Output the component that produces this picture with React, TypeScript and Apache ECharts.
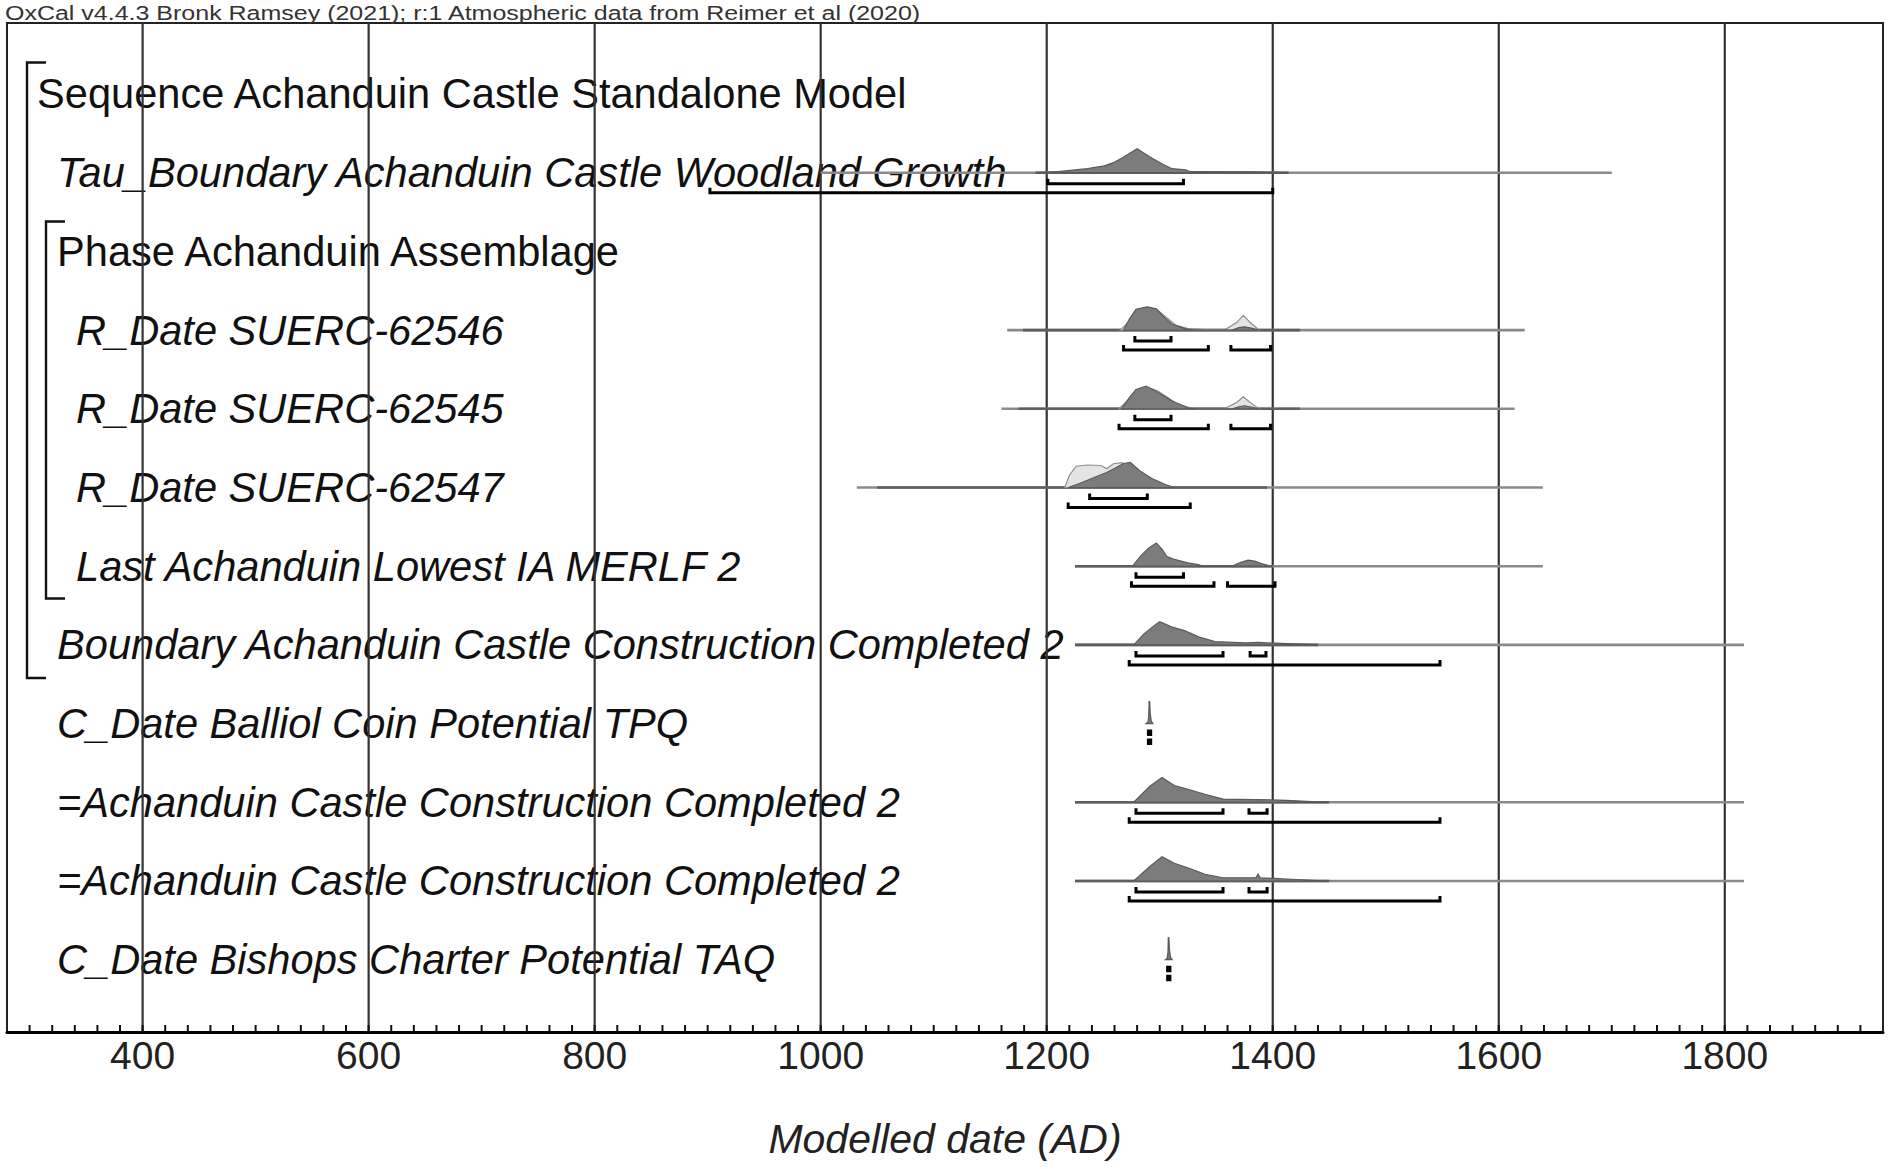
import React, { useEffect, useRef } from 'react';
import * as echarts from 'echarts';

const TITLE = 'OxCal v4.4.3 Bronk Ramsey (2021); r:1 Atmospheric data from Reimer et al (2020)';
const AXIS_NAME = 'Modelled date (AD)';
const X_MIN = 280;
const X_MAX = 1940;
const TICK_STEP = 20;
const GRID_YEARS = [400, 600, 800, 1000, 1200, 1400, 1600, 1800];
const Y_MIN = -0.902;
const Y_MAX = 11.919;

const ROW_NAMES = [
  'Sequence Achanduin Castle Standalone Model',
  'Tau_Boundary Achanduin Castle Woodland Growth',
  'Phase Achanduin Assemblage',
  'R_Date SUERC-62546',
  'R_Date SUERC-62545',
  'R_Date SUERC-62547',
  'Last Achanduin Lowest IA MERLF 2',
  'Boundary Achanduin Castle Construction Completed 2',
  'C_Date Balliol Coin Potential TPQ',
  '=Achanduin Castle Construction Completed 2',
  '=Achanduin Castle Construction Completed 2',
  'C_Date Bishops Charter Potential TAQ',
];
const ROW_LEVEL = [0, 1, 1, 2, 2, 2, 2, 1, 1, 1, 1, 1];
const ROW_ITALIC = [false, true, false, true, true, true, true, true, true, true, true, true];

// Sequence / Phase brackets: [top row, bottom row]
const SEQ_SPANS = [
  [-0.4, 7.42],
  [1.62, 6.41],
];

// [row, from, to]
const RANGE_LIGHT = [
  [1, 1000, 1700],
  [3, 1165, 1623],
  [4, 1160, 1614],
  [5, 1032, 1639],
  [6, 1225, 1639],
  [7, 1225, 1817],
  [9, 1225, 1817],
  [10, 1225, 1817],
];
const RANGE_DARK = [
  [1, 1190, 1414],
  [3, 1179, 1424],
  [4, 1175, 1424],
  [5, 1050, 1395],
  [6, 1225, 1400],
  [7, 1225, 1440],
  [9, 1225, 1450],
  [10, 1225, 1450],
];

// likelihoods (unmodelled), relative probability
const L_62546 = [[1265, 0], [1272, 0.3], [1280, 0.75], [1289, 0.9], [1298, 0.8], [1306, 0.5], [1314, 0.2], [1325, 0.06], [1340, 0.02], [1358, 0.02], [1368, 0.3], [1374, 0.59], [1380, 0.3], [1388, 0]];
const L_62545 = [[1264, 0], [1271, 0.3], [1279, 0.72], [1288, 0.88], [1298, 0.72], [1307, 0.45], [1315, 0.2], [1326, 0.05], [1340, 0.02], [1358, 0.02], [1368, 0.25], [1374, 0.48], [1380, 0.25], [1388, 0]];
const L_62547 = [[1216, 0], [1220, 0.48], [1226, 0.85], [1236, 0.9], [1248, 0.88], [1253, 0.75], [1259, 0.95], [1267, 0.99], [1275, 0.61], [1281, 0.15], [1286, 0]];
const LIK_ROWS = [3, 4, 5];
const LIKELIHOODS = [L_62546, L_62545, L_62547];

// posteriors (modelled), relative probability
const P_TAU = [[1192, 0], [1210, 0.04], [1236, 0.16], [1251, 0.27], [1259, 0.4], [1267, 0.6], [1280, 0.96], [1291, 0.64], [1303, 0.33], [1311, 0.16], [1323, 0.11], [1327, 0.04], [1380, 0.03], [1414, 0]];
const P_62546 = [[1268, 0], [1273, 0.43], [1279, 0.83], [1289, 0.93], [1297, 0.85], [1303, 0.56], [1311, 0.23], [1323, 0.05], [1331, 0], [1364, 0], [1370, 0.1], [1375, 0.13], [1381, 0.08], [1388, 0]];
const P_62545 = [[1266, 0], [1273, 0.44], [1279, 0.77], [1288, 0.91], [1299, 0.64], [1311, 0.31], [1325, 0.04], [1333, 0], [1364, 0], [1370, 0.08], [1375, 0.12], [1381, 0.07], [1388, 0]];
const P_62547 = [[1219, 0], [1229, 0.16], [1242, 0.4], [1253, 0.6], [1260, 0.76], [1268, 0.96], [1274, 1.0], [1282, 0.68], [1293, 0.36], [1305, 0.12], [1313, 0]];
const P_LAST = [[1276, 0], [1283, 0.4], [1290, 0.72], [1297, 0.93], [1302, 0.68], [1306, 0.4], [1313, 0.27], [1325, 0.13], [1334, 0.06], [1338, 0], [1364, 0], [1370, 0.12], [1378, 0.24], [1384, 0.2], [1390, 0.1], [1398, 0]];
const P_BOUNDARY = [[1277, 0], [1286, 0.44], [1295, 0.77], [1300, 0.93], [1311, 0.71], [1322, 0.57], [1335, 0.31], [1349, 0.13], [1376, 0.08], [1387, 0.1], [1412, 0.05], [1440, 0]];
const P_BALLIOL = [[1288, 0], [1289.6, 0.06], [1290.3, 0.3], [1290.6, 0.88], [1291.1, 0.88], [1291.6, 0.4], [1292.5, 0.1], [1294, 0]];
const P_ACH_A = [[1277, 0], [1291, 0.63], [1302, 0.99], [1313, 0.67], [1322, 0.56], [1340, 0.32], [1356, 0.13], [1385, 0.11], [1412, 0.08], [1448, 0]];
const P_ACH_B = [[1277, 0], [1291, 0.57], [1302, 0.97], [1313, 0.71], [1326, 0.51], [1340, 0.27], [1356, 0.13], [1385, 0.13], [1387, 0.27], [1389, 0.13], [1412, 0.08], [1450, 0]];
const P_BISHOPS = [[1305, 0], [1306.6, 0.06], [1307.3, 0.3], [1307.6, 0.88], [1308.1, 0.88], [1308.6, 0.4], [1309.5, 0.1], [1311, 0]];
const POST_ROWS = [1, 3, 4, 5, 6, 7, 8, 9, 10, 11];
const POSTERIORS = [P_TAU, P_62546, P_62545, P_62547, P_LAST, P_BOUNDARY, P_BALLIOL, P_ACH_A, P_ACH_B, P_BISHOPS];

// highest posterior density ranges [row, from, to]
const HPD_68 = [
  [1, 1201, 1321],
  [3, 1278, 1310],
  [4, 1278, 1310],
  [5, 1238, 1289],
  [6, 1279, 1321],
  [7, 1279, 1356],
  [7, 1380, 1394],
  [8, 1290, 1292],
  [9, 1279, 1356],
  [9, 1379, 1395],
  [10, 1279, 1356],
  [10, 1379, 1395],
  [11, 1307, 1309],
];
const HPD_95 = [
  [1, 902, 1400],
  [3, 1268, 1343],
  [3, 1363, 1398],
  [4, 1264, 1343],
  [4, 1363, 1398],
  [5, 1219, 1327],
  [6, 1275, 1348],
  [6, 1360, 1402],
  [7, 1273, 1548],
  [8, 1290, 1292],
  [9, 1273, 1548],
  [10, 1273, 1548],
  [11, 1307, 1309],
];

const TICK_VALUES: number[] = [];
for (let v = X_MIN + TICK_STEP; v < X_MAX; v += TICK_STEP) TICK_VALUES.push(v);

// styles
const FONT = '"Liberation Sans", Arial, sans-serif';
const LABEL_SIZE = 41.6;
const PEAK_PX = 25;
const OFF_68 = 11;
const OFF_95 = 20;
const TICK_PX = 5;
const MINOR_TICK_PX = 7;
const INDENT = [30, 50, 69];
const SEQ_X = [[20, 39], [39, 58]];

function App() {
  const ref = useRef<HTMLDivElement>(null);

  useEffect(() => {
    if (!ref.current) return;
    const chart = echarts.init(ref.current, null, { renderer: 'svg' });

    const polygonRender = (dists: number[][][], rows: number[], fill: string, stroke: string) =>
      (params: any, api: any) => {
        const i = params.dataIndex;
        const pts = dists[i];
        const row = rows[i];
        const top = pts.map(([x, d]) => {
          const c = api.coord([x, row]);
          return [c[0], c[1] - d * PEAK_PX];
        });
        const a = api.coord([pts[0][0], row]);
        const b = api.coord([pts[pts.length - 1][0], row]);
        return {
          type: 'polygon',
          shape: { points: [a, ...top, b] },
          style: { fill, stroke, lineWidth: 1.2 },
        };
      };

    const bracketRender = (list: number[][], off: number) => (params: any, api: any) => {
      const [row, x1, x2] = list[params.dataIndex];
      const a = api.coord([x1, row]);
      const b = api.coord([x2, row]);
      const y = a[1] + off;
      return {
        type: 'polyline',
        shape: { points: [[a[0], y - TICK_PX], [a[0], y], [b[0], y], [b[0], y - TICK_PX]] },
        style: { stroke: '#000', lineWidth: 3, fill: 'none' },
      };
    };

    const rangeRender = (list: number[][], color: string, width: number) => (params: any, api: any) => {
      const [row, x1, x2] = list[params.dataIndex];
      const a = api.coord([x1, row]);
      const b = api.coord([x2, row]);
      return {
        type: 'line',
        shape: { x1: a[0], y1: a[1], x2: b[0], y2: b[1] },
        style: { stroke: color, lineWidth: width, fill: 'none' },
      };
    };

    const option: any = {
      animation: false,
      backgroundColor: '#fff',
      grid: {
        left: 7,
        right: 6,
        top: 23,
        bottom: 137,
        show: true,
        borderColor: '#222',
        borderWidth: 2,
        backgroundColor: 'transparent',
      },
      graphic: [
        {
          type: 'text',
          x: 5,
          y: 3,
          scaleX: 1.25,
          style: {
            text: TITLE,
            fontSize: 20,
            fontFamily: FONT,
            fill: '#333',
            verticalAlign: 'top',
          },
        },
      ],
      xAxis: {
        type: 'value',
        min: X_MIN,
        max: X_MAX,
        name: AXIS_NAME,
        nameLocation: 'middle',
        nameGap: 86,
        nameTextStyle: { fontSize: 41, fontStyle: 'italic', fontFamily: FONT, color: '#222' },
        axisLine: { show: true, onZero: false, lineStyle: { color: '#000', width: 3 } },
        axisTick: { show: false },
        axisLabel: {
          show: true,
          margin: 4,
          fontSize: 39,
          fontFamily: FONT,
          color: '#222',
          customValues: GRID_YEARS,
          formatter: (v: number) => String(Math.round(v)),
        },
        splitLine: { show: false },
      },
      yAxis: {
        type: 'value',
        inverse: true,
        min: Y_MIN,
        max: Y_MAX,
        show: false,
        splitLine: { show: false },
      },
      series: [
        {
          type: 'custom',
          name: 'labels',
          z: 2,
          data: ROW_NAMES.map((_, i) => [X_MIN, i]),
          renderItem: (params: any, api: any) => {
            const i = params.dataIndex;
            const c = api.coord([X_MIN, i]);
            return {
              type: 'text',
              x: c[0] + INDENT[ROW_LEVEL[i]],
              y: c[1],
              style: {
                text: ROW_NAMES[i],
                fontSize: LABEL_SIZE,
                fontFamily: FONT,
                fontStyle: ROW_ITALIC[i] ? 'italic' : 'normal',
                fill: '#111',
                align: 'left',
                verticalAlign: 'middle',
              },
            };
          },
        },
        {
          type: 'custom',
          name: 'gridlines',
          z: 3,
          data: GRID_YEARS.map((y) => [y, Y_MIN]),
          renderItem: (params: any, api: any) => {
            const x = GRID_YEARS[params.dataIndex];
            const a = api.coord([x, Y_MIN]);
            const b = api.coord([x, Y_MAX]);
            return {
              type: 'line',
              shape: { x1: a[0], y1: a[1], x2: b[0], y2: b[1] },
              style: { stroke: '#333', lineWidth: 2.2, fill: 'none' },
            };
          },
        },
        {
          type: 'custom',
          name: 'minorTicks',
          z: 3,
          data: TICK_VALUES.map((v) => [v, Y_MAX]),
          renderItem: (params: any, api: any) => {
            const v = TICK_VALUES[params.dataIndex];
            const a = api.coord([v, Y_MAX]);
            return {
              type: 'line',
              shape: { x1: a[0], y1: a[1], x2: a[0], y2: a[1] - MINOR_TICK_PX },
              style: { stroke: '#111', lineWidth: 2, fill: 'none' },
            };
          },
        },
        {
          type: 'custom',
          name: 'structure',
          z: 3,
          data: SEQ_SPANS.map((s) => [X_MIN, s[0], s[1]]),
          renderItem: (params: any, api: any) => {
            const i = params.dataIndex;
            const [t, b] = SEQ_SPANS[i];
            const p1 = api.coord([X_MIN, t]);
            const p2 = api.coord([X_MIN, b]);
            const x0 = p1[0] + SEQ_X[i][0];
            const x1 = p1[0] + SEQ_X[i][1];
            return {
              type: 'polyline',
              shape: { points: [[x1, p1[1]], [x0, p1[1]], [x0, p2[1]], [x1, p2[1]]] },
              style: { stroke: '#111', lineWidth: 2.4, fill: 'none' },
            };
          },
        },
        {
          type: 'custom',
          name: 'range',
          z: 4,
          data: RANGE_LIGHT.map(([r, a, b]) => [a, r, b]),
          renderItem: rangeRender(RANGE_LIGHT, '#8a8a8a', 2.6),
        },
        {
          type: 'custom',
          name: 'rangeDark',
          z: 4,
          data: RANGE_DARK.map(([r, a, b]) => [a, r, b]),
          renderItem: rangeRender(RANGE_DARK, '#5e5e5e', 2.6),
        },
        {
          type: 'custom',
          name: 'likelihood',
          z: 5,
          data: LIK_ROWS.map((r, i) => [LIKELIHOODS[i][0][0], r]),
          renderItem: polygonRender(LIKELIHOODS, LIK_ROWS, '#e4e4e4', '#8e8e8e'),
        },
        {
          type: 'custom',
          name: 'posterior',
          z: 6,
          data: POST_ROWS.map((r, i) => [POSTERIORS[i][0][0], r]),
          renderItem: polygonRender(POSTERIORS, POST_ROWS, '#7c7c7c', '#5a5a5a'),
        },
        {
          type: 'custom',
          name: 'hpd68',
          z: 7,
          data: HPD_68.map(([r, a, b]) => [a, r, b]),
          renderItem: bracketRender(HPD_68, OFF_68),
        },
        {
          type: 'custom',
          name: 'hpd95',
          z: 7,
          data: HPD_95.map(([r, a, b]) => [a, r, b]),
          renderItem: bracketRender(HPD_95, OFF_95),
        },
      ],
    };

    chart.setOption(option);
    return () => {
      chart.dispose();
    };
  }, []);

  return (
    <div
      ref={ref}
      style={{ position: 'absolute', left: 0, top: 0, width: 1889, height: 1169, background: '#fff' }}
    />
  );
}

export default App;
